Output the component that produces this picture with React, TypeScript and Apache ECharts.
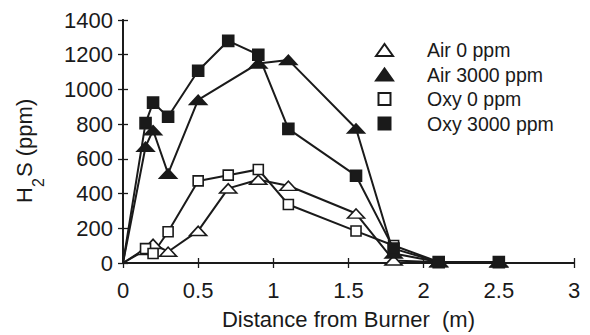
import React, { useEffect, useRef } from "react";
import * as echarts from "echarts";

const seriesNames = ["Air 0 ppm", "Air 3000 ppm", "Oxy 0 ppm", "Oxy 3000 ppm"];

const air0X = [0, 0.15, 0.2, 0.3, 0.5, 0.7, 0.9, 1.1, 1.55, 1.8, 2.1, 2.5];
const air0Y = [0, 75, 110, 65, 185, 430, 480, 445, 285, 15, 4, 3];

const air3000X = [0, 0.15, 0.2, 0.3, 0.5, 0.9, 1.1, 1.55, 1.8, 2.1, 2.5];
const air3000Y = [0, 670, 765, 515, 940, 1150, 1170, 775, 55, 6, 6];

const oxy0X = [0, 0.15, 0.2, 0.3, 0.5, 0.7, 0.9, 1.1, 1.55, 1.8, 2.1, 2.5];
const oxy0Y = [0, 83, 55, 180, 473, 506, 539, 337, 184, 101, 6, 4];

const oxy3000X = [0, 0.15, 0.2, 0.3, 0.5, 0.7, 0.9, 1.1, 1.55, 1.8, 2.1, 2.5];
const oxy3000Y = [0, 806, 924, 843, 1108, 1280, 1200, 773, 503, 83, 5, 5];

const xTitle = "Distance from Burner  (m)";
const yTitleParts = ["H", "2", "S (ppm)"];

const FONT = "'Liberation Sans', Arial, Helvetica, sans-serif";
const INK = "#1a1a1a";
const TRIANGLE = "path://M0,12L8.5,0L17,12Z";
const SQUARE = "path://M0,0L10,0L10,10L0,10Z";

function pairs(xs: number[], ys: number[]) {
  // the line starts at the origin, which carries no marker
  return xs.map((x, i) =>
    x === 0 ? { value: [x, ys[i]], symbol: "none" } : { value: [x, ys[i]] }
  );
}

export default function App() {
  const ref = useRef<HTMLDivElement>(null);

  useEffect(() => {
    if (!ref.current) return;
    const chart = echarts.init(ref.current, undefined, { renderer: "svg" });

    const mk = (
      name: string,
      data: any[],
      symbol: string,
      size: number | number[],
      filled: boolean
    ) => ({
      type: "line",
      name,
      data,
      xAxisIndex: 0,
      yAxisIndex: 0,
      symbol,
      symbolSize: size,
      symbolKeepAspect: true,
      showAllSymbol: true,
      lineStyle: { color: INK, width: 2 },
      itemStyle: {
        color: filled ? INK : "#ffffff",
        borderColor: INK,
        borderWidth: 1.6,
      },
      emphasis: { disabled: true },
      z: filled ? 3 : 2,
    });

    const plain = (v: number) => String(v);

    const axisCommonX = {
      type: "value",
      min: 0,
      max: 3,
      interval: 0.5,
      splitLine: { show: false },
      axisLine: { show: true, lineStyle: { color: INK, width: 1.8 } },
      axisTick: { show: true, inside: true, length: 5, lineStyle: { color: INK, width: 1.3 } },
    };
    const axisCommonY = {
      type: "value",
      min: 0,
      max: 1400,
      interval: 200,
      splitLine: { show: false },
      axisLine: { show: true, lineStyle: { color: INK, width: 1.8 } },
      axisTick: { show: true, inside: true, length: 5, lineStyle: { color: INK, width: 1.3 } },
    };

    chart.setOption({
      animation: false,
      backgroundColor: "#ffffff",
      grid: { left: 123, right: 16, top: 20, bottom: 62, containLabel: false },
      xAxis: [
        {
          ...axisCommonX,
          position: "bottom",
          name: xTitle,
          nameLocation: "middle",
          nameGap: 45,
          nameTextStyle: { fontFamily: FONT, fontSize: 22, color: INK },
          axisLabel: { fontFamily: FONT, fontSize: 22, color: INK, margin: 16, formatter: plain },
        },
        {
          ...axisCommonX,
          position: "top",
          axisLabel: { show: false },
        },
      ],
      yAxis: [
        {
          ...axisCommonY,
          position: "left",
          axisLabel: { fontFamily: FONT, fontSize: 22, color: INK, margin: 10, formatter: plain },
        },
        {
          ...axisCommonY,
          position: "right",
          axisLabel: { show: false },
        },
      ],
      legend: {
        orient: "vertical",
        left: 370,
        top: 35,
        padding: 5,
        itemWidth: 17,
        itemHeight: 12,
        itemGap: 4.5,
        selectedMode: false,
        lineStyle: { width: 0, opacity: 0 },
        textStyle: { fontFamily: FONT, fontSize: 19.5, color: INK, padding: [0, 0, 0, 29] },
        data: [
          { name: seriesNames[0], icon: TRIANGLE },
          { name: seriesNames[1], icon: TRIANGLE },
          { name: seriesNames[2], icon: SQUARE },
          { name: seriesNames[3], icon: SQUARE },
        ],
      },
      series: [
        mk(seriesNames[0], pairs(air0X, air0Y), TRIANGLE, [17, 13], false),
        mk(seriesNames[1], pairs(air3000X, air3000Y), TRIANGLE, [17, 13], true),
        mk(seriesNames[2], pairs(oxy0X, oxy0Y), SQUARE, 10, false),
        mk(seriesNames[3], pairs(oxy3000X, oxy3000Y), SQUARE, 11, true),
      ],
      graphic: [
        {
          type: "group",
          x: 35,
          y: 150,
          rotation: Math.PI / 2,
          children: [
            {
              type: "text",
              x: -53,
              y: 0,
              style: {
                text: yTitleParts[0],
                fontFamily: FONT,
                fontSize: 22,
                fill: INK,
                align: "left",
                verticalAlign: "bottom",
              },
            },
            {
              type: "text",
              x: -37,
              y: -5,
              style: {
                text: yTitleParts[1],
                fontFamily: FONT,
                fontSize: 16,
                fill: INK,
                align: "left",
                verticalAlign: "top",
              },
            },
            {
              type: "text",
              x: -27,
              y: 0,
              style: {
                text: yTitleParts[2],
                fontFamily: FONT,
                fontSize: 22,
                fill: INK,
                align: "left",
                verticalAlign: "bottom",
              },
            },
          ],
        },
      ],
    });

    return () => chart.dispose();
  }, []);

  return <div ref={ref} style={{ width: 590, height: 335, position: "absolute", left: 0, top: 0 }} />;
}
